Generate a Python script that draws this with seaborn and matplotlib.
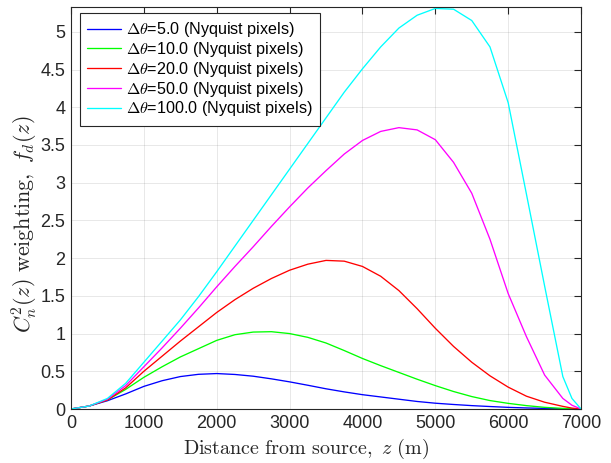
import numpy as np
import pandas as pd
import matplotlib
matplotlib.use("Agg")
import matplotlib.pyplot as plt
import seaborn as sns

# ---- data ----
z = [0, 250, 500, 750, 1000, 1250, 1500, 1750, 2000, 2250, 2500, 2750, 3000,
     3250, 3500, 3750, 4000, 4250, 4500, 4750, 5000, 5250, 5500, 5750, 6000,
     6250, 6500, 6750, 6875, 7000]

f_5 = [0, 0.04, 0.11, 0.20, 0.30, 0.375, 0.43, 0.46, 0.47, 0.458, 0.435, 0.40, 0.36,
       0.315, 0.268, 0.227, 0.19, 0.16, 0.13, 0.10, 0.077, 0.06, 0.045, 0.033, 0.022,
       0.014, 0.008, 0.003, 0.001, 0]
f_10 = [0, 0.04, 0.12, 0.26, 0.42, 0.56, 0.69, 0.80, 0.91, 0.985, 1.02, 1.025, 1.0,
        0.95, 0.875, 0.775, 0.67, 0.575, 0.485, 0.395, 0.31, 0.232, 0.165, 0.112, 0.075,
        0.045, 0.022, 0.008, 0.003, 0]
f_20 = [0, 0.04, 0.12, 0.28, 0.50, 0.70, 0.90, 1.09, 1.28, 1.45, 1.60, 1.73, 1.84,
        1.92, 1.97, 1.96, 1.89, 1.76, 1.57, 1.33, 1.07, 0.83, 0.62, 0.44, 0.29,
        0.17, 0.09, 0.035, 0.012, 0]
f_50 = [0, 0.04, 0.13, 0.31, 0.56, 0.81, 1.07, 1.34, 1.62, 1.89, 2.15, 2.42, 2.68,
        2.93, 3.16, 3.38, 3.56, 3.68, 3.73, 3.70, 3.57, 3.27, 2.86, 2.25, 1.53,
        0.96, 0.45, 0.14, 0.05, 0]
f_100 = [0, 0.04, 0.14, 0.34, 0.62, 0.90, 1.18, 1.49, 1.82, 2.16, 2.50, 2.84, 3.18,
         3.52, 3.86, 4.20, 4.51, 4.80, 5.05, 5.22, 5.31, 5.30, 5.15, 4.80, 4.06,
         2.85, 1.63, 0.43, 0.14, 0]

series_labels = [r"$\Delta\theta$=5.0 (Nyquist pixels)",
                 r"$\Delta\theta$=10.0 (Nyquist pixels)",
                 r"$\Delta\theta$=20.0 (Nyquist pixels)",
                 r"$\Delta\theta$=50.0 (Nyquist pixels)",
                 r"$\Delta\theta$=100.0 (Nyquist pixels)"]
series_values = [f_5, f_10, f_20, f_50, f_100]
colors = ["#0000ff", "#00ff00", "#ff0000", "#ff00ff", "#00ffff"]

xticks = [0, 1000, 2000, 3000, 4000, 5000, 6000, 7000]
xticklabels = ["0", "1000", "2000", "3000", "4000", "5000", "6000", "7000"]
yticks = [0, 0.5, 1, 1.5, 2, 2.5, 3, 3.5, 4, 4.5, 5]
yticklabels = ["0", "0.5", "1", "1.5", "2", "2.5", "3", "3.5", "4", "4.5", "5"]

df = pd.concat([pd.DataFrame({"z": z, "f": v, "case": lab})
                for lab, v in zip(series_labels, series_values)], ignore_index=True)

sns.set_style("white")
plt.rcParams["font.family"] = ["Liberation Sans", "DejaVu Sans"]
plt.rcParams["mathtext.fontset"] = "cm"

fig = plt.figure(figsize=(6.11, 4.63), dpi=100)
ax = fig.add_axes([0.1162, 0.1166, 0.951 - 0.1162, 0.985 - 0.1166])

sns.lineplot(data=df, x="z", y="f", hue="case", hue_order=series_labels,
             palette=colors, linewidth=0.95, ax=ax, sort=False)

ax.set_xlim(0, 7000)
ax.set_ylim(0, 5.33)
ax.set_xticks(xticks)
ax.set_xticklabels(xticklabels)
ax.set_yticks(yticks)
ax.set_yticklabels(yticklabels)

dark = "#262626"
ax.grid(True, color=dark, alpha=0.12, linewidth=0.6)
for s in ax.spines.values():
    s.set_color(dark)
    s.set_linewidth(0.8)
ax.tick_params(direction="in", length=5, width=0.8, colors=dark,
               labelsize=13, top=True, right=True, pad=4)
for lab in ax.get_xticklabels() + ax.get_yticklabels():
    lab.set_color(dark)

xl = ax.set_xlabel(r"$\mathrm{Distance\ from\ source,}\ z\ \mathrm{(m)}$",
                   fontsize=14.5, color=dark)
ax.xaxis.set_label_coords(0.46, -0.068)
yl = ax.set_ylabel(r"$C_n^2(z)\ \mathrm{weighting,}\ f_d(z)$", fontsize=12.8,
                   color=dark)
ax.yaxis.set_label_coords(-0.063, 0.46)

# fit label sizes to the lengths measured on the reference (in pixels)
fig.canvas.draw()
r = fig.canvas.get_renderer()
bx = xl.get_window_extent(r)
xl.set_fontsize(14.5 * 246.0 / bx.width)
by = yl.get_window_extent(r)
yl.set_fontsize(12.8 * 218.0 / by.height)

def make_legend(fs):
    lg = ax.legend(loc="upper left", bbox_to_anchor=(0.0176, 0.985), fontsize=fs,
                   frameon=True, fancybox=False, edgecolor=dark, framealpha=1,
                   handlelength=2.1, handletextpad=0.3, labelspacing=0.05,
                   borderpad=0.45, borderaxespad=0.0)
    return lg

leg = make_legend(11.5)
fig.canvas.draw()
tw = max(t.get_window_extent(r).width for t in leg.get_texts())
leg = make_legend(11.5 * 187.0 / tw)
leg.get_frame().set_linewidth(0.8)
for t in leg.get_texts():
    t.set_color("black")

fig.savefig("out.png", dpi=100)
